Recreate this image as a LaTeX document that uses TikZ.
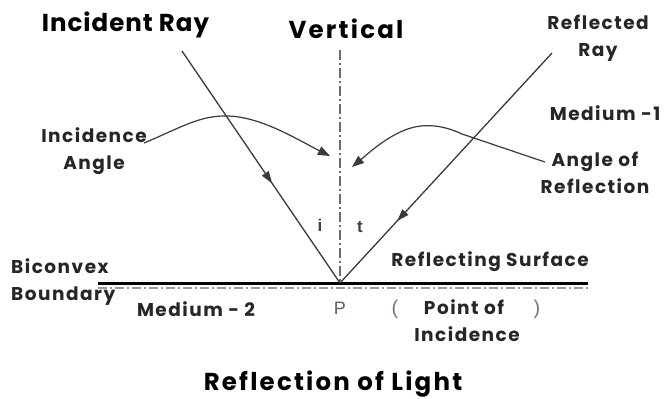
\documentclass[tikz,border=0pt]{standalone}
\usepackage{fontspec}
\setmainfont{Poppins}
\newfontfamily\titlefont[LetterSpace=4]{Poppins}
\newfontfamily\vertfont[LetterSpace=9]{Poppins}
\newfontfamily\lblfont[LetterSpace=8]{Poppins}
\newfontfamily\capfont[LetterSpace=9]{Poppins}
\newfontfamily\arialfont{Liberation Sans}
\usetikzlibrary{arrows.meta,decorations.markings}
\definecolor{raygray}{HTML}{3A3A3A}
\definecolor{lightline}{HTML}{9A9A9A}
\definecolor{symgray}{HTML}{3E3E48}
\definecolor{pgray}{HTML}{5A5F6E}
\definecolor{parengray}{HTML}{6A7890}
\tikzset{
  title/.style={font=\titlefont\fontsize{24.5}{28}\selectfont\bfseries, text=black, inner sep=0pt},
  lbl/.style={font=\lblfont\fontsize{18.5}{27}\selectfont\bfseries, text=black!85, inner sep=0pt, align=center},
  sym/.style={font=\arialfont\fontsize{17}{19}\selectfont\bfseries, text=symgray, inner sep=0pt},
  ray/.style={draw=raygray, line width=1.3pt},
  curvearrow/.style={draw=raygray, line width=1.2pt, -{Triangle[length=12pt,width=9pt]}},
  midarrow/.style={postaction={decorate}, decoration={markings, mark=at position #1 with {\arrow{Triangle[length=12pt,width=8pt]}}}}
}
\begin{document}
\begin{tikzpicture}[x=1pt,y=-1pt]
\useasboundingbox[fill=white] (0,0) rectangle (665,399);
% key points
\coordinate (P) at (340,283);
\coordinate (itop) at (182,51);
\coordinate (rtop) at (552,53);
\coordinate (vtop) at (340,50);
\coordinate (sL) at (98,283);
\coordinate (sR) at (588,283);
\coordinate (dL) at (98,288);
\coordinate (dR) at (588,288);
% surface
\draw[lightline, line width=1.6pt, dash pattern=on 9pt off 3pt on 2pt off 3pt] (dL) -- (dR);
\draw[black, line width=3pt] (sL) -- (sR);
% vertical
\draw[lightline!70!black, line width=1.3pt, dash pattern=on 10pt off 3pt on 2pt off 3pt] (vtop) -- (P);
% rays
\draw[ray, midarrow=0.57] (itop) -- (P);
\draw[ray, midarrow=0.73] (rtop) -- (P);
% labels
\node[title] (inc) at (125.5,25) {Incident Ray};
\node[title, font=\vertfont\fontsize{24.5}{28}\selectfont\bfseries] (vert) at (346,29) {Vertical};
\node[lbl] (refl) at (598,38) {Reflected\\Ray};
\node[lbl] (med1) at (605,113) {Medium -1};
\node[lbl] (incang) at (94,151) {Incidence\\Angle};
\node[lbl] (refang) at (595,173) {Angle of\\Reflection};
\node[sym] (i) at (320,225) {i};
\node[sym] (t) at (360,227) {t};
\node[lbl, align=left, anchor=west] (bic) at (11,282) {Biconvex\\Boundary};
\node[lbl] (rsurf) at (490,262) {Reflecting Surface};
\node[lbl] (med2) at (196,309) {Medium - 2};
\node[inner sep=0pt, text=pgray, font=\arialfont\fontsize{18}{20}\selectfont] (Plbl) at (340,308) {P};
\node[inner sep=0pt, text=parengray, font=\arialfont\fontsize{20}{22}\selectfont] (lp) at (395,309) {(};
\node[lbl] (poi) at (464,307) {Point of};
\node[inner sep=0pt, text=parengray, font=\arialfont\fontsize{20}{22}\selectfont] (rp) at (537,309) {)};
\node[lbl] (incid) at (467,334) {Incidence};
\node[title, font=\capfont\fontsize{24.5}{28}\selectfont\bfseries] (caption) at (333,384) {Reflection of Light};
% angle curves
\coordinate (c1s) at (144,143);
\coordinate (c1e) at (330,156);
\draw[curvearrow] (c1s) .. controls (180,128) and (200,115) .. (228,116)
  .. controls (262,117) and (298,140) .. (c1e);
\coordinate (c2s) at (545,162);
\coordinate (c2e) at (352,167);
\draw[curvearrow] (c2s) -- (462,134) .. controls (445,126) and (425,122) .. (405,130)
  .. controls (385,138) and (370,152) .. (c2e);
\end{tikzpicture}
\end{document}
